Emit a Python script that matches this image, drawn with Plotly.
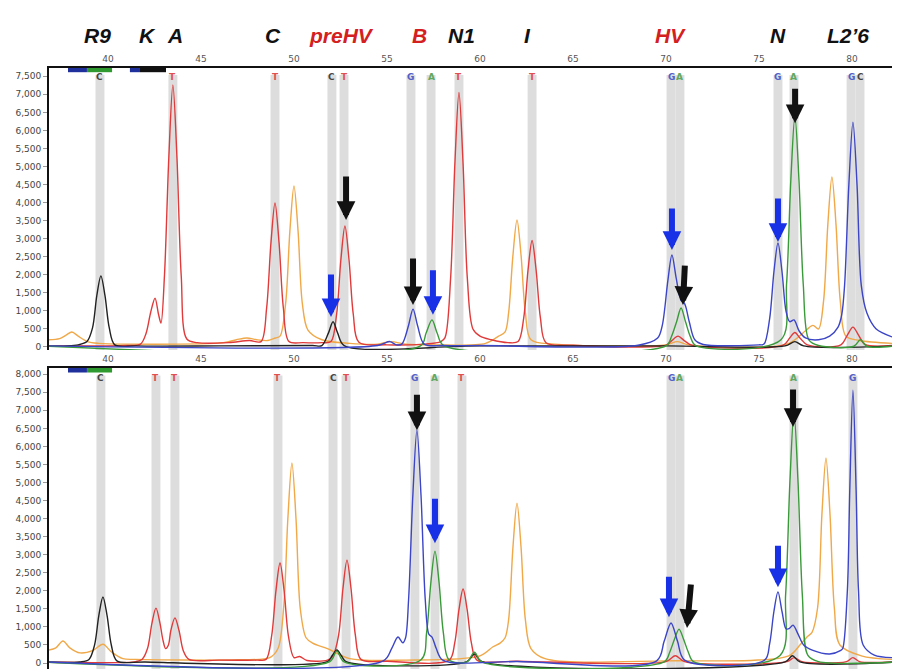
import plotly.graph_objects as go

# ---------------- data ----------------
# region labels above the traces
REGION_LABELS = ["R9", "K", "A", "C", "preHV", "B", "N1", "I", "HV", "N", "L2\u20196"]
REGION_POS = [39.46, 42.15, 43.6, 48.87, 52.53, 56.77, 59.03, 62.53, 70.22, 76.0, 79.79]
REGION_RED = [False, False, False, False, True, True, False, False, True, False, False]

# base calls (grey bands) per panel
TOP_CALL_POS = [39.57, 43.49, 48.98, 52.04, 52.69, 56.29, 57.37, 58.87, 62.8, 70.27, 70.75, 76.02, 76.88, 79.95, 80.43]
TOP_CALL_BASE = ["C", "T", "T", "C", "T", "G", "A", "T", "T", "G", "A", "G", "A", "G", "C"]
BOT_CALL_POS = [39.62, 42.58, 43.6, 49.14, 52.1, 52.8, 56.5, 57.58, 59.03, 70.27, 70.75, 76.88, 80.05]
BOT_CALL_BASE = ["C", "T", "T", "T", "C", "T", "G", "A", "T", "G", "A", "A", "G"]

# quality bars at the top-left of each panel
TOP_QBAR_START = [37.85, 38.87, 41.18, 41.72]
TOP_QBAR_END = [38.87, 40.22, 41.72, 43.12]
TOP_QBAR_COLOR = ["#1f2f9c", "#2f9a2f", "#1f2f9c", "#111111"]
BOT_QBAR_START = [37.85, 38.87]
BOT_QBAR_END = [38.87, 40.22]
BOT_QBAR_COLOR = ["#1f2f9c", "#2f9a2f"]

# ---- top panel traces (x = base position, y = signal) ----
TOP_C_X = [36.83, 38.4, 38.87, 39.17, 39.40, 39.62, 39.84, 40.07, 40.37, 41.5, 46.0, 51.0, 51.5, 51.85, 52.10, 52.35, 52.7, 60.0, 70.0, 76.4, 76.93, 77.4, 82.15]
TOP_C_Y = [20, 60, 150, 530, 1420, 1970, 1420, 530, 60, 30, 30, 40, 40, 385, 700, 385, 40, 30, 30, 30, 150, 30, 25]

TOP_T_X = [36.83, 41.0, 41.75, 42.05, 42.3, 42.53, 42.72, 42.85, 43.04, 43.27, 43.49, 43.71, 43.94, 44.24, 44.8, 46.5, 47.6,
           48.23, 48.53, 48.76, 48.98, 49.2, 49.43, 49.73, 50.5, 51.5,
           51.99, 52.29, 52.52, 52.74, 52.96, 53.19, 53.49, 55.0, 57.0, 57.9,
           58.12, 58.42, 58.65, 58.87, 59.09, 59.32, 59.62, 60.0, 60.6, 61.5,
           62.05, 62.35, 62.58, 62.8, 63.02, 63.25, 63.55, 65.0, 70.0, 70.3, 70.65, 71.0, 71.4,
           76.3, 76.65, 76.93, 77.2, 77.6, 79.4, 79.75, 80.05, 80.35, 80.7, 82.15]
TOP_T_Y = [30, 40, 80, 380, 970, 1350, 900, 660, 2000, 5230, 7260, 5230, 1960, 220, 120, 120, 180,
           150, 1080, 2870, 3990, 2870, 1080, 150, 120, 120,
           150, 900, 2410, 3350, 2410, 900, 130, 60, 80, 150,
           260, 1900, 5080, 7050, 5080, 1900, 500, 300, 200, 120,
           150, 800, 2120, 2950, 2120, 800, 120, 50, 50, 170, 300, 170, 50,
           50, 250, 400, 250, 60, 60, 330, 550, 330, 70, 40]

TOP_S_X = [36.83, 37.4, 37.75, 38.06, 38.4, 38.9, 39.5, 41.0, 46.2, 46.9, 47.47, 48.0, 48.6, 49.0,
           49.25, 49.55, 49.78, 50.0, 50.22, 50.45, 50.75, 51.5, 53.0, 54.5, 55.2, 56.0, 57.5, 60.3, 61.0, 61.35,
           61.54, 61.77, 61.99, 62.21, 62.44, 62.74, 64.0, 70.0, 70.6, 71.2, 76.5, 77.5, 77.9, 78.2,
           78.47, 78.7, 78.92, 79.14, 79.37, 79.67, 80.4, 82.15]
TOP_S_Y = [200, 230, 330, 415, 300, 150, 100, 80, 120, 200, 250, 200, 180, 250,
           300, 1200, 3210, 4460, 3210, 1200, 470, 200, 100, 80, 150, 80, 60, 100, 300, 420,
           950, 2530, 3520, 2530, 950, 200, 80, 60, 150, 60, 80, 450, 600, 500,
           1270, 3390, 4710, 3390, 1270, 300, 180, 100]

TOP_G_X = [36.83, 54.5, 55.16, 55.5, 55.8, 56.15, 56.40, 56.65, 57.0, 58.0, 60.0, 68.5, 69.55, 69.8,
           70.1, 70.32, 70.55, 70.8, 71.0, 71.25, 71.55, 72.0,
           75.0, 75.27, 75.57, 75.8, 76.02, 76.24, 76.45, 76.65, 76.88, 77.15, 77.5, 78.2, 78.8, 79.25,
           79.45, 79.6, 79.83, 80.05, 80.27, 80.5, 80.8, 81.3, 82.15]
TOP_G_Y = [30, 40, 150, 60, 80, 580, 1050, 580, 80, 40, 40, 50, 250, 600,
           1840, 2550, 1900, 1300, 1200, 700, 200, 70,
           60, 80, 780, 2070, 2880, 2070, 1000, 700, 750, 450, 250, 200, 300, 550,
           900, 1700, 4490, 6230, 4490, 1700, 940, 500, 280]

TOP_A_X = [36.83, 56.8, 57.1, 57.42, 57.7, 58.05, 70.0, 70.3, 70.57, 70.81, 71.05, 71.3, 71.6,
           76.18, 76.48, 76.71, 76.93, 77.15, 77.38, 77.68, 78.2, 80.1, 80.45, 80.8, 82.15]
TOP_A_Y = [20, 30, 380, 750, 380, 40, 30, 300, 700, 1080, 700, 300, 40,
           200, 1730, 4610, 6400, 4610, 1730, 200, 40, 20, 200, 20, 20]

# ---- bottom panel traces ----
BOT_C_X = [36.83, 38.5, 38.98, 39.28, 39.51, 39.73, 39.95, 40.18, 40.48, 42.0, 51.8, 52.05, 52.31, 52.55, 52.8,
           59.3, 59.7, 60.1, 76.4, 76.8, 77.2, 82.15]
BOT_C_Y = [20, 30, 100, 500, 1320, 1830, 1320, 500, 60, 30, 40, 200, 360, 200, 40,
           40, 250, 40, 30, 200, 30, 20]

BOT_T_X = [36.83, 41.5, 41.83, 42.13, 42.36, 42.58, 42.8, 42.95, 43.1, 43.25, 43.38, 43.6, 43.82, 44.05, 44.35, 46.0, 48.0,
           48.5, 48.8, 49.03, 49.25, 49.47, 49.7, 50.0, 50.3, 50.7, 51.8,
           52.1, 52.4, 52.63, 52.85, 53.07, 53.3, 53.6, 55.0,
           58.34, 58.64, 58.87, 59.09, 59.31, 59.54, 59.84, 62.0, 70.0, 70.5, 71.0,
           76.5, 76.9, 77.3, 79.7, 80.05, 80.4, 82.15]
BOT_T_Y = [30, 40, 100, 410, 1090, 1520, 1090, 650, 400, 500, 900, 1250, 900, 340, 100, 80, 80,
           100, 750, 2000, 2770, 2000, 750, 150, 180, 70, 80,
           200, 770, 2050, 2850, 2050, 770, 100, 50,
           80, 550, 1480, 2050, 1480, 550, 80, 50, 40, 200, 40,
           40, 150, 40, 40, 150, 40, 30]

BOT_S_X = [36.83, 37.2, 37.58, 37.95, 38.5, 39.2, 39.73, 40.2, 40.8, 41.5, 47.0, 48.7,
           49.14, 49.44, 49.67, 49.89, 50.11, 50.34, 50.65, 51.0, 51.8, 53.0, 56.0, 60.0, 60.7, 61.08, 61.35,
           61.54, 61.77, 61.99, 62.21, 62.44, 62.74, 63.5, 70.0, 76.6, 77.2, 77.58, 77.85,
           78.15, 78.38, 78.6, 78.82, 79.05, 79.35, 80.5, 82.15]
BOT_S_Y = [360, 420, 610, 420, 280, 350, 520, 300, 120, 100, 90, 150,
           400, 1500, 3990, 5540, 3990, 1500, 700, 550, 400, 120, 80, 200, 450, 550, 700,
           1200, 3190, 4430, 3190, 1200, 400, 120, 60, 200, 500, 720, 850,
           1530, 4090, 5680, 4090, 1530, 500, 200, 100]

BOT_G_X = [36.83, 54.8, 55.25, 55.59, 55.85, 56.0, 56.16, 56.39, 56.61, 56.83, 57.06, 57.25, 57.42, 57.65, 58.0, 62.0,
           69.5, 69.9, 70.27, 70.62, 71.0, 75.3,
           75.57, 75.8, 76.02, 76.24, 76.45, 76.62, 76.83, 77.1, 77.4, 77.9, 78.8, 79.4,
           79.5, 79.75, 79.88, 80.05, 80.22, 80.35, 80.6, 81.2, 82.15]
BOT_G_Y = [30, 60, 400, 720, 560, 700, 1740, 4640, 6450, 4640, 1740, 800, 720, 400, 80, 40,
           60, 600, 1110, 600, 80, 80,
           530, 1420, 1970, 1420, 950, 950, 1050, 800, 500, 350, 250, 350,
           400, 2000, 4800, 7560, 4800, 2000, 500, 220, 150]

BOT_A_X = [36.83, 51.9, 52.3, 52.7, 56.83, 57.13, 57.36, 57.58, 57.8, 58.03, 58.33, 59.3, 59.7, 60.1,
           69.9, 70.2, 70.45, 70.7, 70.95, 71.2, 71.5,
           76.13, 76.43, 76.66, 76.88, 77.1, 77.33, 77.63, 78.2, 82.15]
BOT_A_Y = [20, 30, 330, 30, 90, 840, 2230, 3100, 2230, 840, 90, 30, 300, 30,
           30, 300, 650, 940, 650, 300, 30,
           210, 1880, 5000, 6950, 5000, 1880, 210, 40, 20]

# arrows (tip position in data units)
TOP_ARROW_X = [51.99, 52.8, 56.4, 57.47, 70.32, 70.91, 76.02, 76.94]
TOP_ARROW_Y = [830, 3520, 1160, 890, 2690, 1160, 2910, 6200]
TOP_ARROW_KIND = ["blue", "black", "black", "blue", "blue", "black", "blue", "black"]
TOP_ARROW_LEN = [44, 45, 48, 46, 43, 41, 45, 36]
TOP_ARROW_DX = [0, 0, 0, 0, 0, 2, 0, 0]
BOT_ARROW_X = [56.61, 57.58, 70.16, 71.13, 76.02, 76.83]
BOT_ARROW_Y = [6450, 3320, 1270, 970, 2100, 6540]
BOT_ARROW_KIND = ["black", "blue", "blue", "black", "blue", "black"]
BOT_ARROW_LEN = [37, 46, 42, 45, 43, 39]
BOT_ARROW_DX = [0, 0, 0, 4, 0, 0]

# ---------------- styling ----------------
TRACE_COLOR = {"S": "#f0a848", "T": "#e03a3a", "C": "#222222", "A": "#3a9a3a", "G": "#3b45c6"}
CALL_COLOR = {"C": "#444444", "T": "#e05050", "G": "#5060c8", "A": "#60a860"}
ARROW_COLOR = {"blue": "#1830e6", "black": "#111111"}
BAND_COLOR = "#dddddd"
BAND_HALF = 0.24

fig = go.Figure()

panels = [
    ("x", "y", [("S", TOP_S_X, TOP_S_Y), ("T", TOP_T_X, TOP_T_Y), ("C", TOP_C_X, TOP_C_Y),
                ("A", TOP_A_X, TOP_A_Y), ("G", TOP_G_X, TOP_G_Y)]),
    ("x2", "y2", [("S", BOT_S_X, BOT_S_Y), ("T", BOT_T_X, BOT_T_Y), ("C", BOT_C_X, BOT_C_Y),
                  ("A", BOT_A_X, BOT_A_Y), ("G", BOT_G_X, BOT_G_Y)]),
]
for xa, ya, chans in panels:
    for key, xs, ys in chans:
        fig.add_trace(go.Scatter(x=xs, y=ys, mode="lines", xaxis=xa, yaxis=ya,
                                 line=dict(color=TRACE_COLOR[key], width=1.4, shape="spline", smoothing=0.9),
                                 hoverinfo="skip", showlegend=False))

shapes = []
annotations = []

def add_calls(pos, bases, xref, yref):
    for p, b in zip(pos, bases):
        shapes.append(dict(type="rect", xref=xref, yref=yref + " domain", x0=p - BAND_HALF, x1=p + BAND_HALF,
                           y0=0, y1=0.975, fillcolor=BAND_COLOR, line=dict(width=0), layer="below"))
        annotations.append(dict(x=p, y=0.968, xref=xref, yref=yref + " domain", text="<b>%s</b>" % b,
                                showarrow=False, font=dict(family="DejaVu Sans", size=9, color=CALL_COLOR[b]),
                                yanchor="middle"))

add_calls(TOP_CALL_POS, TOP_CALL_BASE, "x", "y")
add_calls(BOT_CALL_POS, BOT_CALL_BASE, "x2", "y2")

def add_qbars(starts, ends, cols, xref, yref):
    for s, e, c in zip(starts, ends, cols):
        shapes.append(dict(type="rect", xref=xref, yref=yref + " domain", x0=s, x1=e, y0=0.985, y1=1.0,
                           fillcolor=c, line=dict(width=0)))

add_qbars(TOP_QBAR_START, TOP_QBAR_END, TOP_QBAR_COLOR, "x", "y")
add_qbars(BOT_QBAR_START, BOT_QBAR_END, BOT_QBAR_COLOR, "x2", "y2")

def add_arrows(xs, ys, kinds, lens, dxs, xref, yref):
    for x, y, k, L, dx in zip(xs, ys, kinds, lens, dxs):
        annotations.append(dict(x=x, y=y, xref=xref, yref=yref, text="", showarrow=True,
                                ax=dx, ay=-L, axref="pixel", ayref="pixel",
                                arrowhead=2, arrowsize=0.62, arrowwidth=6,
                                arrowcolor=ARROW_COLOR[k]))

add_arrows(TOP_ARROW_X, TOP_ARROW_Y, TOP_ARROW_KIND, TOP_ARROW_LEN, TOP_ARROW_DX, "x", "y")
add_arrows(BOT_ARROW_X, BOT_ARROW_Y, BOT_ARROW_KIND, BOT_ARROW_LEN, BOT_ARROW_DX, "x2", "y2")

for lab, p, red in zip(REGION_LABELS, REGION_POS, REGION_RED):
    annotations.append(dict(x=p, y=0.959, xref="x", yref="paper", text="<b><i>%s</i></b>" % lab,
                            showarrow=False, yanchor="middle",
                            font=dict(family="Liberation Sans", size=21, color="#d42020" if red else "#111111")))

xcommon = dict(range=[36.83, 82.15], tick0=0, dtick=5, side="top", showline=True, linecolor="#111111",
               linewidth=2, showgrid=False, zeroline=False, ticks="", automargin=False,
               tickfont=dict(family="DejaVu Sans", size=9, color="#555555"))
ycommon = dict(tick0=0, dtick=500, tickformat=",", showline=True, linecolor="#111111", linewidth=2,
               showgrid=False, zeroline=False, ticks="outside", ticklen=4, tickcolor="#999999",
               automargin=False, tickfont=dict(family="DejaVu Sans", size=9, color="#444444"))

# the page body adds an 8px margin, so the figure is sized to fill the rest of the 904x670 window
fig.update_layout(
    width=896, height=662,
    margin=dict(l=41, r=12, t=0, b=0),
    paper_bgcolor="white", plot_bgcolor="white",
    showlegend=False,
    xaxis=dict(anchor="y", domain=[0, 1], **xcommon),
    yaxis=dict(domain=[0.4834, 0.9094], range=[-83, 7729], **ycommon),
    xaxis2=dict(anchor="y2", domain=[0, 1], **xcommon),
    yaxis2=dict(domain=[0.0015, 0.4562], range=[-166, 8172], **ycommon),
    shapes=shapes,
    annotations=annotations,
)

fig.write_html("out.html")
